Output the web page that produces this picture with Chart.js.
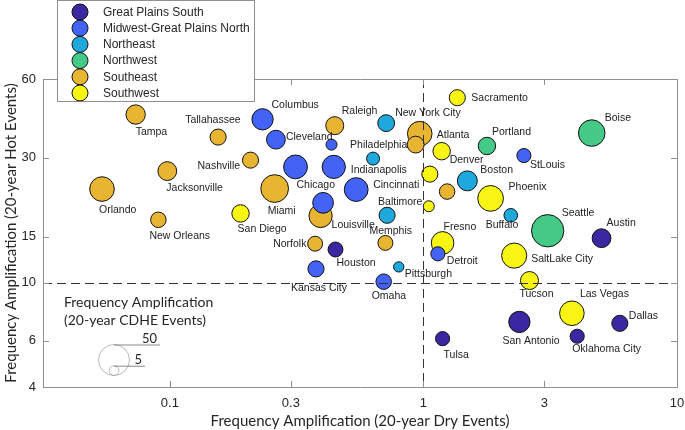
<!DOCTYPE html>
<html>
<head>
<meta charset="utf-8">
<script src="https://cdn.jsdelivr.net/npm/chart.js@4.4.0/dist/chart.umd.min.js"></script>
<style>
  html, body { margin: 0; padding: 0; background: #fff; }
</style>
</head>
<body>
<canvas id="bubbleChart" width="685" height="430"></canvas>
<script>
// Regions (legend order) and colours
const regionNames = ['Great Plains South', 'Midwest-Great Plains North', 'Northeast', 'Northwest', 'Southeast', 'Southwest'];
const regionColors = ['#3b27a1', '#4263f6', '#1ea8dc', '#45c987', '#e8b532', '#f8f414'];

// Cities ('' = unlabelled bubble)
const cityNames = [
  'Houston', 'Austin', 'Tulsa', 'San Antonio', 'Dallas', 'Oklahoma City',
  'Columbus', 'Cleveland', '', 'Chicago', 'Indianapolis', 'Cincinnati', '', 'Kansas City', 'StLouis', 'Detroit', 'Omaha',
  'New York City', 'Philadelphia', 'Boston', 'Baltimore', 'Buffalo', 'Pittsburgh',
  'Portland', 'Boise', 'Seattle',
  'Tampa', 'Tallahassee', 'Raleigh', 'Nashville', 'Jacksonville', 'Orlando', 'Miami', 'New Orleans', 'Louisville', 'Norfolk', 'Memphis', 'Atlanta', '', '',
  'Sacramento', 'Denver', '', 'Phoenix', '', 'San Diego', 'Fresno', 'SaltLake City', 'Tucson', 'Las Vegas'
];
const cityRegion = [
  0, 0, 0, 0, 0, 0,
  1, 1, 1, 1, 1, 1, 1, 1, 1, 1, 1,
  2, 2, 2, 2, 2, 2,
  3, 3, 3,
  4, 4, 4, 4, 4, 4, 4, 4, 4, 4, 4, 4, 4, 4,
  5, 5, 5, 5, 5, 5, 5, 5, 5, 5
];
// Frequency amplification, 20-year dry events (x)
const dryAmp = [
  0.450, 5.04, 1.19, 2.39, 5.95, 4.04,
  0.232, 0.262, 0.434, 0.313, 0.443, 0.543, 0.402, 0.377, 2.49, 1.14, 0.697,
  0.713, 0.633, 1.49, 0.719, 2.21, 0.799,
  1.78, 4.61, 3.09,
  0.0733, 0.155, 0.447, 0.208, 0.0977, 0.054, 0.259, 0.0901, 0.393, 0.374, 0.708, 0.967, 0.932, 1.24,
  1.36, 1.18, 1.06, 1.84, 1.05, 0.190, 1.19, 2.28, 2.62, 3.85
];
// Frequency amplification, 20-year hot events (y)
const hotAmp = [
  13.4, 14.8, 6.12, 7.09, 7.00, 6.25,
  42.1, 35.2, 33.7, 27.7, 27.7, 22.7, 20.2, 11.3, 30.6, 12.9, 10.1,
  40.7, 29.8, 24.5, 18.1, 18.1, 11.5,
  33.3, 37.3, 15.8,
  43.9, 36.0, 39.8, 29.4, 26.7, 22.8, 22.9, 17.4, 18.0, 14.1, 14.2, 37.1, 33.7, 22.3,
  50.9, 31.8, 26.0, 21.0, 19.6, 18.4, 14.2, 12.7, 10.2, 7.65
];
// Frequency amplification, 20-year CDHE events (bubble size)
const cdheAmp = [
  11.6, 18.4, 10.4, 23.6, 13.5, 10.4,
  23.6, 18.4, 6.3, 29.5, 28.1, 29.5, 22.4, 13.5, 10.4, 10.4, 12.5,
  14.8, 8.8, 20.7, 13.5, 9.6, 5.5,
  15.8, 36.7, 54.5,
  19.5, 13.5, 16.9, 13.5, 18.4, 31.5, 40, 12.5, 28.1, 11.6, 11.6, 31.5, 14.8, 12.5,
  13.5, 15.8, 13.5, 34.5, 6.3, 15.8, 26.7, 33, 16.9, 31.5
];

const xTicks = [0.1, 0.3, 1, 3, 10];
const yTicks = [4, 6, 10, 15, 30, 60];
const sizeKey = [50, 5];

// label placement: [dx, dy] from bubble centre to text start
const labelOffset = {
  'Tampa': [0, 18], 'Tallahassee': [-33, -17], 'Columbus': [9, -14], 'Cleveland': [10, -3],
  'Raleigh': [7, -15], 'Philadelphia': [-23, -13], 'Nashville': [-53, 6], 'Jacksonville': [-1, 17],
  'Chicago': [1, 18], 'Indianapolis': [17, 3], 'Cincinnati': [17, -4], 'Orlando': [-3, 21],
  'Miami': [-7, 23], 'New Orleans': [-9, 16], 'San Diego': [-3, 16], 'Louisville': [11, 9],
  'Norfolk': [-42, 0], 'Houston': [1, 14], 'Kansas City': [-25, 19], 'Baltimore': [-9, -13],
  'Memphis': [-16, -12], 'Pittsburgh': [6, 7], 'Omaha': [-12, 14], 'New York City': [9, -10],
  'Sacramento': [14, 0], 'Atlanta': [17, 1], 'Portland': [5, -14], 'Boise': [13, -15],
  'Denver': [8, 9], 'StLouis': [6, 10], 'Boston': [13, -11], 'Phoenix': [18, -11],
  'Seattle': [14, -18], 'Austin': [5, -15], 'Buffalo': [-25, 10], 'Fresno': [1, -16],
  'Detroit': [9, 7], 'SaltLake City': [17, 4], 'Tucson': [-10, 14], 'Las Vegas': [8, -19],
  'Dallas': [9, -7], 'San Antonio': [-17, 19], 'Oklahoma City': [-5, 13], 'Tulsa': [1, 16]
};

const rOf = v => 15.5 * Math.sqrt(v / 50);
const axisGray = '#8f8f8f';
const textDark = '#262626';

const datasets = regionNames.map((name, ri) => {
  const pts = [];
  cityNames.forEach((c, i) => {
    if (cityRegion[i] === ri) pts.push({ x: dryAmp[i], y: hotAmp[i], r: rOf(cdheAmp[i]), name: c });
  });
  return {
    label: name,
    data: pts,
    backgroundColor: regionColors[ri],
    borderColor: '#111',
    borderWidth: 1,
    clip: false
  };
});

const overlay = {
  id: 'overlay',
  afterDatasetsDraw(chart) {
    const { ctx, chartArea: a, scales: { x, y } } = chart;
    ctx.save();

    // dashed reference lines
    ctx.strokeStyle = '#333';
    ctx.lineWidth = 1;
    ctx.setLineDash([9, 5]);
    const x1 = Math.round(x.getPixelForValue(1)) + 0.5;
    const y10 = Math.round(y.getPixelForValue(10)) + 0.5;
    ctx.beginPath();
    ctx.moveTo(x1, a.top); ctx.lineTo(x1, a.bottom);
    ctx.moveTo(a.left, y10); ctx.lineTo(a.right, y10);
    ctx.stroke();
    ctx.setLineDash([]);

    // city labels
    ctx.font = '10.5px "Liberation Sans", Arial, sans-serif';
    ctx.fillStyle = '#222';
    ctx.textAlign = 'left';
    ctx.textBaseline = 'middle';
    chart.data.datasets.forEach((ds, di) => {
      const meta = chart.getDatasetMeta(di);
      ds.data.forEach((p, j) => {
        const off = labelOffset[p.name];
        if (!p.name || !off) return;
        const el = meta.data[j];
        ctx.fillText(p.name, el.x + off[0], el.y + off[1]);
      });
    });

    // top/right frame and inward ticks
    ctx.strokeStyle = axisGray;
    ctx.beginPath();
    ctx.moveTo(a.left, a.top + 0.5); ctx.lineTo(a.right + 0.5, a.top + 0.5);
    ctx.lineTo(a.right + 0.5, a.bottom);
    xTicks.forEach(v => {
      const px = Math.round(x.getPixelForValue(v)) + 0.5;
      ctx.moveTo(px, a.bottom); ctx.lineTo(px, a.bottom - 6);
      ctx.moveTo(px, a.top); ctx.lineTo(px, a.top + 6);
    });
    yTicks.forEach(v => {
      const py = Math.round(y.getPixelForValue(v)) + 0.5;
      ctx.moveTo(a.left, py); ctx.lineTo(a.left + 6, py);
      ctx.moveTo(a.right, py); ctx.lineTo(a.right - 6, py);
    });
    ctx.stroke();

    // size key annotation
    ctx.font = '14px Lato, "Open Sans", sans-serif';
    ctx.fillStyle = textDark;
    ctx.textBaseline = 'middle';
    ctx.fillText('Frequency Amplification', 64, 302);
    ctx.fillText('(20-year CDHE Events)', 64, 320);
    const kx = 114, kBottom = 375.5;
    ctx.lineWidth = 0.8;
    sizeKey.forEach((v, k) => {
      const r = rOf(v);
      const cy = kBottom - r;
      ctx.strokeStyle = '#a8a8a8';
      ctx.beginPath();
      ctx.arc(kx, cy, r, 0, Math.PI * 2);
      ctx.stroke();
      const lineEnd = k === 0 ? 160 : 145;
      ctx.strokeStyle = '#6a6a6a';
      ctx.beginPath();
      ctx.moveTo(kx, cy - r + 0.5); ctx.lineTo(lineEnd, cy - r + 0.5);
      ctx.stroke();
      ctx.font = '13px Lato, "Open Sans", sans-serif';
      ctx.textAlign = 'right';
      ctx.fillText(String(v), lineEnd - 3, cy - r - 6);
    });

    // region legend
    const lx = 57.5, ly = 0.5, lw = 197, lh = 101;
    ctx.fillStyle = '#fff';
    ctx.fillRect(lx, ly, lw, lh);
    ctx.strokeStyle = axisGray;
    ctx.lineWidth = 1;
    ctx.strokeRect(lx, ly, lw, lh);
    ctx.font = '12px "Liberation Sans", Arial, sans-serif';
    ctx.textAlign = 'left';
    regionNames.forEach((name, i) => {
      const cy = 12 + i * 16.2;
      ctx.beginPath();
      ctx.arc(80, cy, 8, 0, Math.PI * 2);
      ctx.fillStyle = regionColors[i];
      ctx.fill();
      ctx.strokeStyle = '#111';
      ctx.stroke();
      ctx.fillStyle = textDark;
      ctx.fillText(name, 103, cy + 0.5);
    });

    ctx.restore();
  }
};

new Chart(document.getElementById('bubbleChart'), {
  type: 'bubble',
  data: { datasets },
  options: {
    responsive: false,
    animation: false,
    events: [],
    layout: { autoPadding: false, padding: { top: 79, right: 8, left: 0, bottom: 0 } },
    plugins: { legend: { display: false }, tooltip: { enabled: false } },
    scales: {
      x: {
        type: 'logarithmic',
        min: 0.0316,
        max: 10,
        afterBuildTicks: s => { s.ticks = xTicks.map(v => ({ value: v })); },
        afterFit: s => { s.height = 43; s.paddingLeft = 0; s.paddingRight = 0; },
        grid: { display: false, drawTicks: false },
        border: { display: true, color: axisGray },
        ticks: {
          autoSkip: false, maxRotation: 0, padding: 9, color: textDark,
          font: { family: 'Liberation Sans', size: 13 },
          callback: v => String(v)
        },
        title: {
          display: true, text: 'Frequency Amplification (20-year Dry Events)',
          font: { family: 'Lato', size: 15 }, color: textDark, padding: 0
        }
      },
      y: {
        type: 'logarithmic',
        min: 4,
        max: 60,
        afterBuildTicks: s => { s.ticks = yTicks.map(v => ({ value: v })); },
        afterFit: s => { s.width = 43; s.paddingTop = 0; s.paddingBottom = 0; },
        grid: { display: false, drawTicks: false },
        border: { display: true, color: axisGray },
        ticks: {
          autoSkip: false, padding: 7, color: textDark,
          font: { family: 'Liberation Sans', size: 13 },
          callback: v => String(v)
        },
        title: {
          display: true, text: 'Frequency Amplification (20-year Hot Events)',
          font: { family: 'Lato', size: 15 }, color: textDark, padding: { top: 2, bottom: 0 }
        }
      }
    }
  },
  plugins: [overlay]
});
</script>
</body>
</html>
